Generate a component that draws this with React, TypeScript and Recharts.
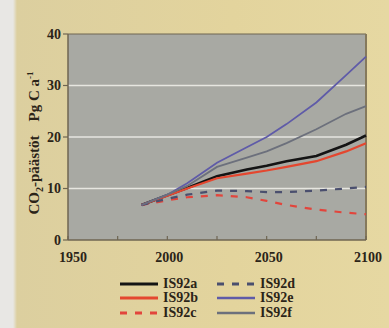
import { CartesianGrid, Line, LineChart, ReferenceLine, XAxis, YAxis } from "recharts";

const years = [1987, 2000, 2010, 2025, 2040, 2050, 2060, 2075, 2090, 2100];
const is92a = [6.8, 8.7, 10.1, 12.4, 13.7, 14.4, 15.3, 16.3, 18.5, 20.3];
const is92b = [6.8, 8.6, 10.0, 12.0, 12.9, 13.5, 14.2, 15.3, 17.2, 18.8];
const is92c = [6.8, 7.7, 8.3, 8.7, 8.3, 7.6, 6.8, 5.9, 5.3, 5.0];
const is92d = [6.8, 8.0, 8.8, 9.6, 9.5, 9.3, 9.3, 9.6, 10.0, 10.3];
const is92e = [6.8, 8.8, 11.0, 15.0, 18.0, 20.0, 22.5, 26.7, 32.0, 35.6];
const is92f = [6.8, 8.8, 10.5, 14.2, 16.0, 17.2, 18.8, 21.5, 24.5, 26.0];

const xTicks = [1950, 1975, 2000, 2025, 2050, 2075, 2100];
const xLabels = [1950, 2000, 2050, 2100];
const yTicks = [0, 10, 20, 30, 40];
const gridValues = [10, 20, 30];

const series = [
  { key: "IS92a", values: is92a, color: "#141414", width: 2.6, dash: undefined },
  { key: "IS92b", values: is92b, color: "#e4472f", width: 2.2, dash: undefined },
  { key: "IS92c", values: is92c, color: "#e2453c", width: 2.2, dash: "7 8" },
  { key: "IS92d", values: is92d, color: "#4a4f6e", width: 2.2, dash: "7 8" },
  { key: "IS92e", values: is92e, color: "#5f5ba8", width: 1.8, dash: undefined },
  { key: "IS92f", values: is92f, color: "#6c707c", width: 1.8, dash: undefined },
];

const data = years.map((year, i) => {
  const row: Record<string, number> = { year };
  series.forEach((s) => (row[s.key] = s.values[i]));
  return row;
});

const ink = "#2b2418";
const axisColor = "#6f6652";
const font = "'Liberation Serif', 'DejaVu Serif', serif";

function XTick({ x, y, payload }: any) {
  const show = xLabels.includes(payload.value);
  // first label sits a bit right of its tick in the original
  const shift = payload.value === 1950 ? 5 : 2;
  return (
    <g>
      <line x1={x} x2={x} y1={y - 10} y2={y - 14} stroke={axisColor} strokeWidth={1.2} />
      {show && (
        <text x={x + shift} y={y + 12} textAnchor="middle" fill={ink} fontSize={14} fontWeight="bold" fontFamily={font}>
          {payload.value}
        </text>
      )}
    </g>
  );
}

function YLabel({ viewBox }: any) {
  const vb = viewBox || { x: 0, y: 34, width: 68, height: 206 };
  const cx = 34;
  const cy = vb.y + vb.height / 2 + 6;
  return (
    <text
      transform={`translate(${cx},${cy}) rotate(-90)`}
      textAnchor="middle"
      fill={ink}
      fontSize={15}
      fontWeight="bold"
      fontFamily={font}
      dy={5}
    >
      CO
      <tspan fontSize={10} dy={4}>2</tspan>
      <tspan dy={-4}>-päästöt</tspan>
      <tspan dx={14}>Pg C a</tspan>
      <tspan fontSize={9} dy={-6}>-1</tspan>
    </text>
  );
}

export default function App() {
  return (
    <div
      style={{
        position: "absolute",
        left: 0,
        top: 0,
        width: 389,
        height: 328,
        background: "linear-gradient(90deg, #e8e7e4 0px, #e8e7e4 13px, #dccf9f 17px, #e3d49d 60%, #e6d8a2 100%)",
        fontFamily: font,
        overflow: "hidden",
      }}
    >
      <LineChart width={389} height={328} data={data} margin={{ top: 34, right: 23, bottom: 58, left: 0 }}>
        <CartesianGrid
          horizontal
          vertical={false}
          horizontalValues={gridValues}
          stroke="#e6e6e0"
          strokeWidth={1.4}
          fill="#a8a9a3"
          fillOpacity={1}
        />
        <XAxis
          dataKey="year"
          type="number"
          domain={[1950, 2100]}
          ticks={xTicks}
          height={30}
          tickSize={0}
          tickMargin={10}
          tickLine={false}
          tick={<XTick />}
          axisLine={{ stroke: axisColor, strokeWidth: 1.5 }}
          interval={0}
        />
        <YAxis
          domain={[0, 40]}
          ticks={yTicks}
          width={68}
          tickSize={5}
          tickMargin={2}
          tickLine={{ stroke: axisColor, strokeWidth: 1.2 }}
          axisLine={{ stroke: axisColor, strokeWidth: 1.5 }}
          tick={{ fill: ink, fontSize: 14, fontWeight: "bold", fontFamily: font }}
          interval={0}
          label={<YLabel />}
        />
        <ReferenceLine y={40} stroke={axisColor} strokeWidth={1.2} />
        <ReferenceLine x={2100} stroke="#85795c" strokeWidth={2} />
        {series.map((s) => (
          <Line
            key={s.key}
            dataKey={s.key}
            type="linear"
            stroke={s.color}
            strokeWidth={s.width}
            strokeDasharray={s.dash}
            dot={false}
            isAnimationActive={false}
          />
        ))}
      </LineChart>
      {series.map((s, i) => {
        const col = Math.floor(i / 3);
        const row = i % 3;
        return (
          <div
            key={s.key}
            style={{
              position: "absolute",
              left: col === 0 ? 120 : 217,
              top: 276 + row * 14.5,
              height: 15,
              display: "flex",
              alignItems: "center",
              fontSize: 14,
              fontWeight: "bold",
              color: ink,
              whiteSpace: "nowrap",
            }}
          >
            <svg width={38} height={6} style={{ marginRight: 5 }}>
              <line x1={0} x2={38} y1={3} y2={3} stroke={s.color} strokeWidth={s.width + 0.6} strokeDasharray={s.dash} />
            </svg>
            {s.key}
          </div>
        );
      })}
    </div>
  );
}
